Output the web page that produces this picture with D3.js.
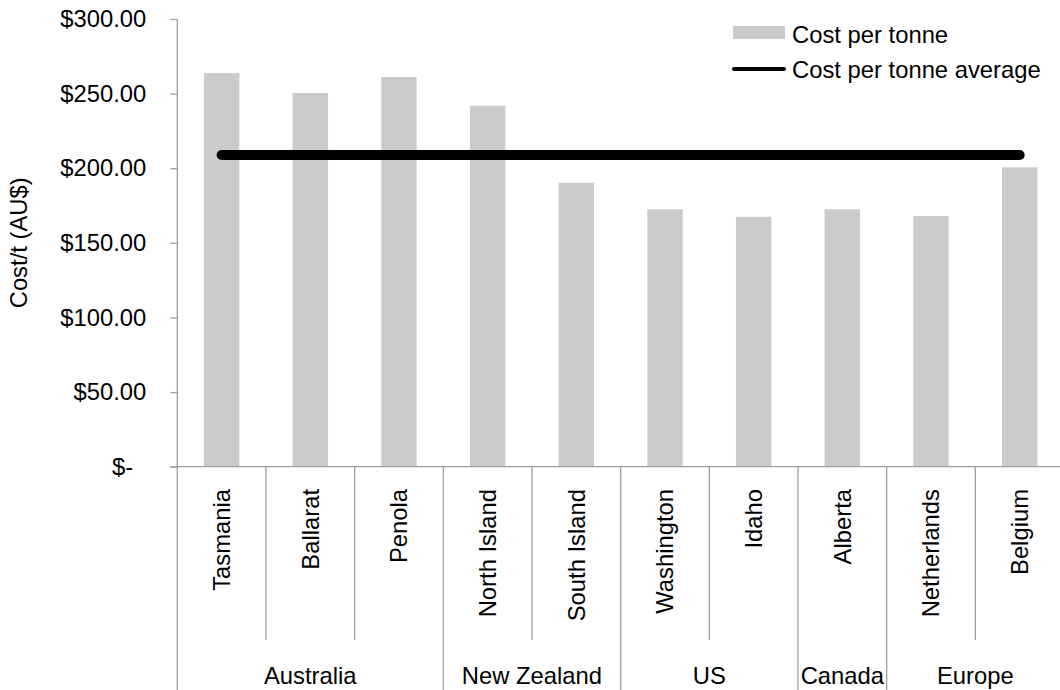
<!DOCTYPE html>
<html lang="en">
<head>
    <meta charset="UTF-8">
    <title>Cost per tonne</title>
    <script src="https://d3js.org/d3.v7.min.js"></script>
    <style>
        body { margin: 0; background: #fff; }
        text { font-family: "Liberation Sans", Arial, sans-serif; fill: #000; }
    </style>
</head>
<body>
    <svg width="1060" height="690" id="chart"></svg>

    <script>
        // data
        var sites = ["Tasmania", "Ballarat", "Penola", "North Island", "South Island",
                     "Washington", "Idaho", "Alberta", "Netherlands", "Belgium"];
        var regions = ["Australia", "Australia", "Australia", "New Zealand", "New Zealand",
                       "US", "US", "Canada", "Europe", "Europe"];
        var costPerTonne = [263.8, 250.4, 261.1, 241.9, 190.3, 172.5, 167.5, 172.5, 168.0, 200.6];
        var costAverage = [208.9, 208.9, 208.9, 208.9, 208.9, 208.9, 208.9, 208.9, 208.9, 208.9];
        var yTicks = [0, 50, 100, 150, 200, 250, 300];

        var svg = d3.select("#chart"),
            fontSize = 23.8,
            axisColor = "#a0a0a0",
            barColor = "#cbcbcb";

        var plotLeft = 177.3, plotRight = 1064, plotTop = 19, plotBottom = 466.7;

        var x = d3.scaleBand()
            .domain(sites)
            .range([plotLeft, plotRight])
            .paddingInner(0)
            .paddingOuter(0);

        var y = d3.scaleLinear()
            .domain([0, 300])
            .range([plotBottom, plotTop]);

        // y axis with ticks on the left
        var yAxis = d3.axisLeft(y)
            .tickValues(yTicks)
            .tickSize(7)
            .tickPadding(24)
            .tickFormat(d => d === 0 ? "$-\u00a0\u00a0" : "$" + d3.format(".2f")(d));

        var yg = svg.append("g")
            .attr("transform", "translate(" + plotLeft + ",0)")
            .call(yAxis);
        yg.select(".domain").remove();
        yg.selectAll("line").attr("stroke", axisColor).attr("stroke-width", 1.3);
        yg.selectAll("text")
            .attr("font-size", fontSize)
            .attr("font-family", "'Liberation Sans', Arial, sans-serif")
            .attr("fill", "#000");

        // vertical axis line runs down through the category area
        svg.append("line")
            .attr("x1", plotLeft).attr("x2", plotLeft)
            .attr("y1", plotTop).attr("y2", 690)
            .attr("stroke", axisColor).attr("stroke-width", 1.3);

        // bars
        var barW = x.bandwidth() * 0.4;
        svg.append("g")
            .selectAll("rect")
            .data(costPerTonne)
            .join("rect")
            .attr("x", (d, i) => x(sites[i]) + (x.bandwidth() - barW) / 2)
            .attr("y", d => y(d))
            .attr("width", barW)
            .attr("height", d => y(0) - y(d))
            .attr("fill", barColor);

        // x axis line
        svg.append("line")
            .attr("x1", plotLeft - 7).attr("x2", plotRight)
            .attr("y1", plotBottom).attr("y2", plotBottom)
            .attr("stroke", axisColor).attr("stroke-width", 1.3);

        // separators between sites; longer ones between regions
        var seps = d3.range(1, sites.length + 1);
        svg.append("g")
            .selectAll("line")
            .data(seps)
            .join("line")
            .attr("x1", i => i < sites.length ? x(sites[i]) : plotRight)
            .attr("x2", i => i < sites.length ? x(sites[i]) : plotRight)
            .attr("y1", plotBottom)
            .attr("y2", i => (i < sites.length && regions[i] === regions[i - 1]) ? 640 : 690)
            .attr("stroke", axisColor).attr("stroke-width", 1.3);

        // site labels
        svg.append("g")
            .selectAll("text")
            .data(sites)
            .join("text")
            .attr("transform", d => "translate(" + (x(d) + x.bandwidth() / 2) + ",489) rotate(-90)")
            .attr("text-anchor", "end")
            .attr("dy", "0.35em")
            .attr("font-size", fontSize)
            .text(d => d);

        // region labels
        var regionNames = Array.from(new Set(regions));
        svg.append("g")
            .selectAll("text")
            .data(regionNames)
            .join("text")
            .attr("x", r => {
                var idx = regions.map((g, i) => g === r ? i : -1).filter(i => i >= 0);
                var x0 = x(sites[idx[0]]), x1 = x(sites[idx[idx.length - 1]]) + x.bandwidth();
                return (x0 + x1) / 2;
            })
            .attr("y", 684)
            .attr("text-anchor", "middle")
            .attr("font-size", fontSize)
            .text(d => d);

        // average line
        var line = d3.line()
            .x((d, i) => x(sites[i]) + x.bandwidth() / 2)
            .y(d => y(d));

        svg.append("path")
            .datum(costAverage)
            .attr("d", line)
            .attr("fill", "none")
            .attr("stroke", "#000")
            .attr("stroke-width", 10)
            .attr("stroke-linecap", "round");

        // y axis title
        svg.append("text")
            .attr("transform", "translate(19," + ((plotTop + plotBottom) / 2) + ") rotate(-90)")
            .attr("text-anchor", "middle")
            .attr("dy", "0.35em")
            .attr("font-size", fontSize)
            .text("Cost/t (AU$)");

        // legend
        var legend = svg.append("g").attr("transform", "translate(733,0)");
        legend.append("rect")
            .attr("x", 0).attr("y", 26)
            .attr("width", 52).attr("height", 13)
            .attr("fill", barColor);
        legend.append("text")
            .attr("x", 59).attr("y", 35)
            .attr("dy", "0.35em")
            .attr("font-size", fontSize)
            .text("Cost per tonne");
        legend.append("line")
            .attr("x1", 1).attr("x2", 51)
            .attr("y1", 69).attr("y2", 69)
            .attr("stroke", "#000")
            .attr("stroke-width", 4)
            .attr("stroke-linecap", "round");
        legend.append("text")
            .attr("x", 59).attr("y", 70)
            .attr("dy", "0.35em")
            .attr("font-size", fontSize)
            .text("Cost per tonne average");
    </script>
</body>
</html>
